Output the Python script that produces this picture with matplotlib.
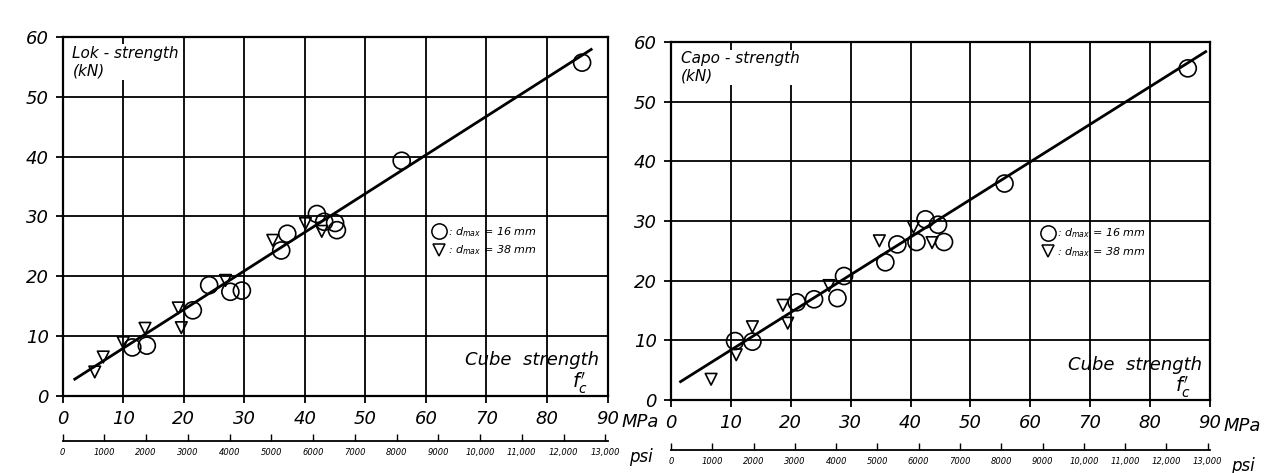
"""
Lok-strength and Capo-strength against cube strength, two scatter panels
with fitted lines and a psi scale below the MPa axis.
"""

import numpy as np
import matplotlib.pyplot as plt
from matplotlib.ticker import FixedLocator, FuncFormatter
from matplotlib.lines import Line2D

plt.rcParams['font.family'] = ['DejaVu Sans']
plt.rcParams['font.style'] = 'italic'

# left panel: Lok-test
lok_circ_x = [11.5, 13.9, 21.5, 24.2, 27.7, 29.6, 36.1, 37.1, 42.0, 43.2, 45.0, 45.3, 56.0, 85.8]
lok_circ_y = [8.1, 8.4, 14.3, 18.5, 17.4, 17.6, 24.3, 27.1, 30.4, 29.1, 28.9, 27.7, 39.3, 55.7]
lok_tri_x = [5.3, 6.7, 10.0, 13.6, 19.1, 19.6, 26.9, 34.7, 40.1, 42.8]
lok_tri_y = [4.0, 6.5, 8.9, 11.3, 14.7, 11.4, 19.3, 26.0, 28.8, 27.5]
lok_fit_x = [2.0, 87.3]
lok_fit_y = [2.8, 57.9]

# right panel: Capo-test
capo_circ_x = [10.7, 13.6, 21.0, 23.9, 27.8, 28.9, 35.8, 37.8, 41.0, 42.5, 44.6, 45.6, 55.7, 86.3]
capo_circ_y = [9.9, 9.8, 16.4, 16.9, 17.1, 20.8, 23.1, 26.1, 26.5, 30.3, 29.4, 26.5, 36.3, 55.6]
capo_tri_x = [6.7, 10.9, 13.6, 18.7, 19.5, 26.4, 34.8, 40.5, 43.6]
capo_tri_y = [3.5, 7.6, 12.3, 15.9, 12.9, 19.2, 26.7, 29.0, 26.4]
capo_fit_x = [1.6, 89.3]
capo_fit_y = [3.1, 58.4]

mpa_ticks = list(range(0, 100, 10))
kn_ticks = list(range(0, 70, 10))
psi_ticks = list(range(0, 14000, 1000))

leg_labels = [r': $d_{max}$ = 16 mm', r': $d_{max}$ = 38 mm']

PSI_PER_MPA = 145.038


def mpa_to_psi(x):
    return np.asarray(x) * PSI_PER_MPA


def psi_to_mpa(x):
    return np.asarray(x) / PSI_PER_MPA


def psi_fmt(v, pos):
    v = int(round(v))
    return f'{v:,}' if v >= 10000 else str(v)


def panel(ax, title, cx, cy, tx, ty, fx, fy, psi_loc, leg_xy, cube_y):
    ax.set_xlim(0, 90)
    ax.set_ylim(0, 60)
    ax.set_xticks(mpa_ticks)
    ax.set_yticks(kn_ticks)
    ax.grid(True, color='black', lw=1.3)
    ax.set_axisbelow(True)
    for s in ax.spines.values():
        s.set_linewidth(1.6)
    ax.tick_params(direction='out', length=5, width=1.3, labelsize=13, pad=5)
    for lab in ax.get_xticklabels() + ax.get_yticklabels():
        lab.set_fontstyle('oblique')

    ax.plot(fx, fy, color='black', lw=2, zorder=3)
    ax.scatter(cx, cy, s=150, marker='o', facecolors='none', edgecolors='black',
               linewidths=1.2, zorder=4)
    ax.scatter(tx, ty, s=70, marker='v', facecolors='none', edgecolors='black',
               linewidths=1.2, zorder=4)

    ax.text(0.018, 0.975, title, transform=ax.transAxes, ha='left', va='top',
            fontsize=11, linespacing=1.2, style='oblique',
            bbox=dict(facecolor='white', edgecolor='none', pad=1))
    ax.text(0.985, cube_y, 'Cube  strength', transform=ax.transAxes, ha='right',
            va='center', fontsize=13, style='oblique')
    ax.text(0.965, 0.035, r"$f_c'$", transform=ax.transAxes, ha='right',
            va='center', fontsize=14)

    handles = [Line2D([], [], ls='none', marker='o', ms=11, mfc='none', mec='black', mew=1.1),
               Line2D([], [], ls='none', marker='v', ms=8, mfc='none', mec='black', mew=1.1)]
    ax.legend(handles, leg_labels, loc='upper left', bbox_to_anchor=leg_xy,
              frameon=False, fontsize=8, handlelength=1.0, handletextpad=0.3,
              borderpad=0, borderaxespad=0, labelspacing=0.4)

    ax.text(1.025, -0.072, 'MPa', transform=ax.transAxes, ha='left', va='center',
            fontsize=13, style='oblique')

    sec = ax.secondary_xaxis(psi_loc, functions=(mpa_to_psi, psi_to_mpa))
    sec.xaxis.set_major_locator(FixedLocator(psi_ticks))
    sec.xaxis.set_major_formatter(FuncFormatter(psi_fmt))
    sec.tick_params(direction='in', length=5, width=1, labelsize=6, pad=5)
    for lab in sec.get_xticklabels():
        lab.set_fontstyle('oblique')
    sec.spines['bottom'].set_linewidth(1.3)
    ax.text(1.04, psi_loc - 0.045, 'psi', transform=ax.transAxes, ha='left',
            va='center', fontsize=12, style='oblique')


fig = plt.figure(figsize=(12.79, 4.73), dpi=100)
ax1 = fig.add_axes([0.049, 0.163, 0.426, 0.759])
ax2 = fig.add_axes([0.5246, 0.154, 0.4214, 0.757])

panel(ax1, 'Lok - strength\n(kN)', lok_circ_x, lok_circ_y, lok_tri_x, lok_tri_y,
      lok_fit_x, lok_fit_y, -0.125, (0.68, 0.475), 0.10)
panel(ax2, 'Capo - strength\n(kN)', capo_circ_x, capo_circ_y, capo_tri_x, capo_tri_y,
      capo_fit_x, capo_fit_y, -0.14, (0.69, 0.485), 0.098)

fig.savefig('out.png', dpi=100)
